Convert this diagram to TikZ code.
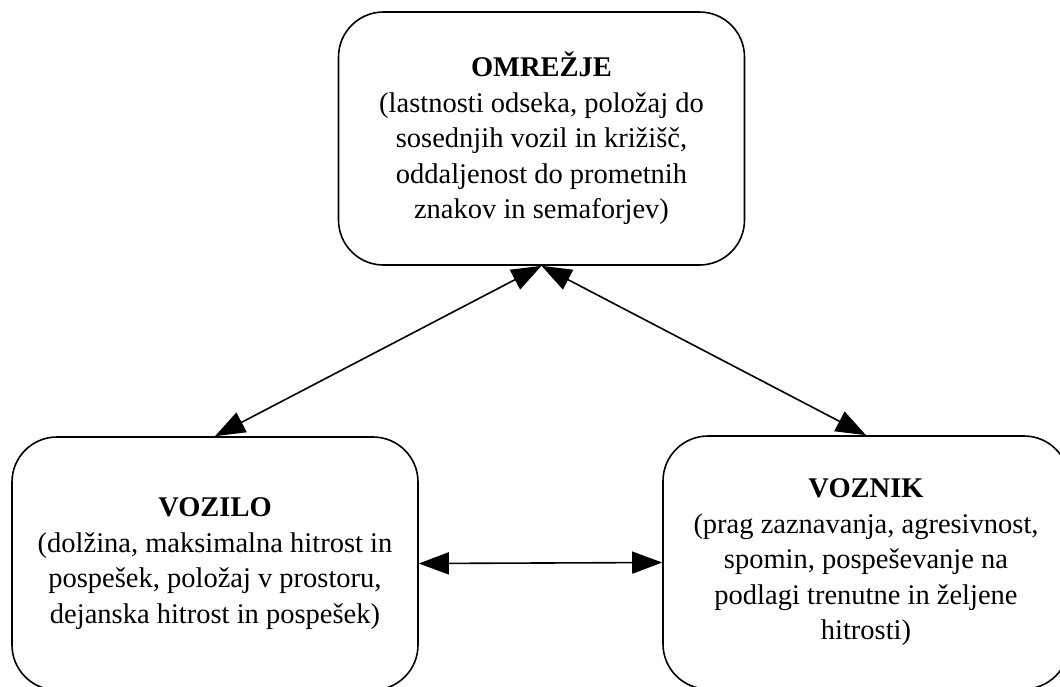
\documentclass[tikz,border=0pt]{standalone}
\usepackage{fontspec}
\setmainfont{Liberation Serif}
\usetikzlibrary{arrows.meta}
\begin{document}
\begin{tikzpicture}[x=1pt,y=-1pt,
  box/.style={draw, line width=1.6pt, rounded corners=45pt, minimum width=406pt,
    minimum height=253pt, align=center, inner sep=0pt,
    font=\fontsize{28.5}{35.5}\selectfont},
  link/.style={line width=1.6pt,
    {Triangle[length=30pt,width=22pt]}-{Triangle[length=30pt,width=22pt]}}]
\useasboundingbox[fill=white] (0,0) rectangle (1060,686);
\node[box] (net) at (541.5,138.5) {\textbf{OMREŽJE}\\(lastnosti odseka, položaj do\\sosednjih vozil in križišč,\\oddaljenost do prometnih\\znakov in semaforjev)};
\node[box] (veh) at (215,563.5) {\textbf{VOZILO}\\(dolžina, maksimalna hitrost in\\pospešek, položaj v prostoru,\\dejanska hitrost in pospešek)};
\node[box] (drv) at (866,562.5) {\textbf{VOZNIK}\\(prag zaznavanja, agresivnost,\\spomin, pospeševanje na\\podlagi trenutne in željene\\hitrosti)};
\draw[link] (veh.north) -- (net.south);
\draw[link] (net.south) -- (drv.north);
\draw[link] (veh.east) -- (drv.west);
\end{tikzpicture}
\end{document}
